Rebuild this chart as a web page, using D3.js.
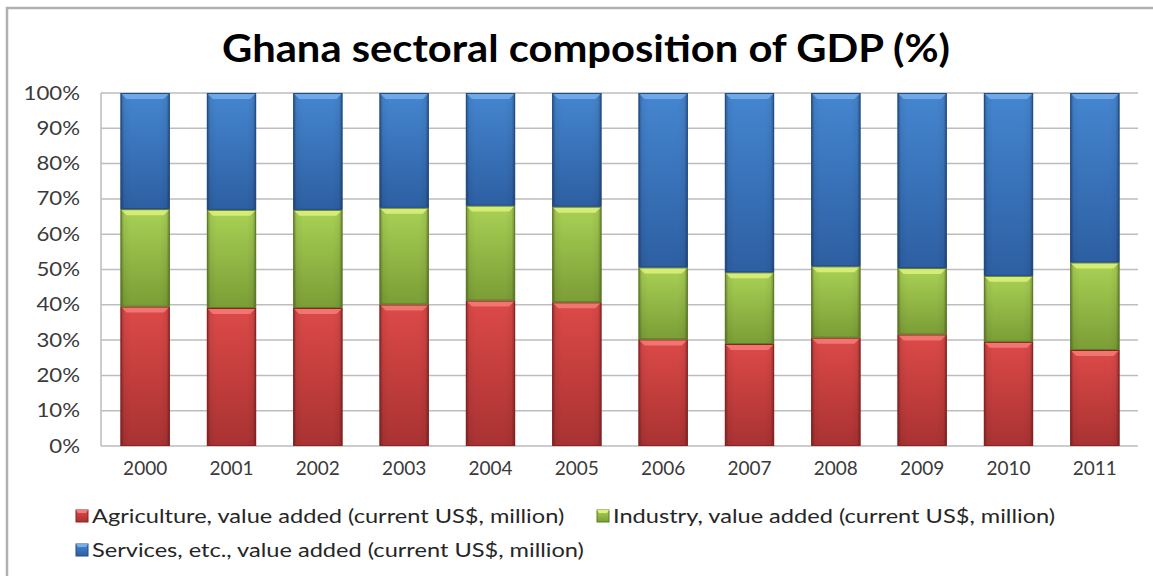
<!DOCTYPE html>
<html><head><meta charset="utf-8">
<script src="https://cdn.jsdelivr.net/npm/d3@7"></script>
<style>body{margin:0;background:#fff;overflow:hidden}</style>
</head><body>
<svg id="chart" width="1153" height="576"></svg>
<script>
const years = ["2000","2001","2002","2003","2004","2005","2006","2007","2008","2009","2010","2011"];
const agriculture = [39.5,39.1,39.1,40.1,41.2,40.7,30.2,28.9,30.7,31.6,29.5,27.2];
const industry    = [27.6,27.8,27.8,27.4,26.9,27.1,20.4,20.3,20.2,18.8,18.7,24.8];
const services    = [32.9,33.1,33.1,32.5,31.9,32.2,49.4,50.8,49.1,49.6,51.8,48.0];
const seriesNames = [
  "Agriculture, value added (current US$, million)",
  "Industry, value added (current US$, million)",
  "Services, etc., value added (current US$, million)"
];
const yTicks = [0,10,20,30,40,50,60,70,80,90,100];
const title = "Ghana sectoral composition of GDP (%)";

const palette = [
  {top:"#DC4A48", bot:"#A93232", hi:"#F47C78", edge:"#8A2222"},
  {top:"#A9D155", bot:"#7B9D36", hi:"#DDF27E", edge:"#5F7C28"},
  {top:"#4586D0", bot:"#2D5FA2", hi:"#77AEEA", edge:"#234C85"}
];

const svg = d3.select("#chart");
const defs = svg.append("defs");
palette.forEach((p,i)=>{
  const g = defs.append("linearGradient").attr("id","v"+i).attr("x1",0).attr("y1",0).attr("x2",0).attr("y2",1);
  g.append("stop").attr("offset","0%").attr("stop-color",p.top);
  g.append("stop").attr("offset","100%").attr("stop-color",p.bot);
});
const hg = defs.append("linearGradient").attr("id","side").attr("x1",0).attr("y1",0).attr("x2",1).attr("y2",0);
[[0,0.35],[0.07,0.05],[0.2,0],[0.8,0],[0.93,0.05],[1,0.35]].forEach(([o,a])=>
  hg.append("stop").attr("offset",o).attr("stop-color","#000").attr("stop-opacity",a));

// chart border
svg.append("path").attr("d","M7,1153 V8 H1160").attr("fill","none").attr("stroke","#b0b0b0").attr("stroke-width",2.5);

const font = "Lato, 'Open Sans', sans-serif";
svg.append("text").attr("transform","translate(586,62) scale(1.07,1)").attr("text-anchor","middle")
  .attr("font-family",font).attr("font-weight","bold").attr("font-size",39).attr("fill","#000").text(title);

const x = d3.scaleBand().domain(years).range([102,1138]).paddingInner(0.43).paddingOuter(0.215);
const y = d3.scaleLinear().domain([0,100]).range([446,93]);

// gridlines
const grid = svg.append("g");
grid.selectAll("line").data(yTicks).join("line")
  .attr("x1",101).attr("x2",1138).attr("y1",d=>y(d)).attr("y2",d=>y(d))
  .attr("stroke","#bdbdbd").attr("stroke-width",1.5);
svg.append("line").attr("x1",101).attr("x2",101).attr("y1",y(100)).attr("y2",y(0)).attr("stroke","#bdbdbd").attr("stroke-width",1.5);

// y axis labels
const yAxis = d3.axisLeft(y).tickValues(yTicks).tickFormat(d=>d+"%").tickSize(0).tickPadding(0);
const ya = svg.append("g").attr("transform","translate(80,0)").call(yAxis);
ya.select(".domain").remove();
ya.selectAll("text").attr("x",0).attr("transform","scale(1.17,1)")
  .attr("font-family",font).attr("font-size",19).attr("fill","#3a3a3a");

// x axis labels
const xAxis = d3.axisBottom(x).tickSize(0).tickPadding(16);
const xa = svg.append("g").attr("transform","translate(0,446)").call(xAxis);
xa.select(".domain").remove();
xa.selectAll("text").attr("font-family",font).attr("font-size",19).attr("fill","#3a3a3a");

// stacked data
const table = years.map((yr,i)=>({year:yr, a:agriculture[i], b:industry[i], c:services[i]}));
const stack = d3.stack().keys(["a","b","c"]);
const layers = stack(table);

const bars = svg.append("g");
layers.forEach((layer,li)=>{
  const p = palette[li];
  const g = bars.append("g");
  layer.forEach(d=>{
    const x0 = x(d.data.year), w = x.bandwidth();
    const y0 = y(d[1]), h = y(d[0]) - y(d[1]);
    g.append("rect").attr("x",x0).attr("y",y0).attr("width",w).attr("height",h).attr("fill",`url(#v${li})`);
    g.append("rect").attr("x",x0).attr("y",y0).attr("width",w).attr("height",h).attr("fill","url(#side)");
    const b = 6;
    g.append("path").attr("d",`M${x0},${y0} H${x0+w} L${x0+w-b},${y0+b} H${x0+b} Z`).attr("fill",p.hi).attr("opacity",0.85);
    g.append("rect").attr("x",x0+0.5).attr("y",y0+0.5).attr("width",w-1).attr("height",h-1)
      .attr("fill","none").attr("stroke",p.edge).attr("stroke-width",1);
  });
});

// legend
const legendPos = [[76,516],[597,516],[76,550]];
const lg = svg.append("g");
seriesNames.forEach((name,i)=>{
  const [lx,ly] = legendPos[i];
  const p = palette[i];
  lg.append("rect").attr("x",lx).attr("y",ly-6).attr("width",12).attr("height",12).attr("fill",`url(#v${i})`).attr("stroke",p.edge);
  lg.append("path").attr("d",`M${lx},${ly-6} H${lx+12} L${lx+10},${ly-3} H${lx+2} Z`).attr("fill",p.hi);
  lg.append("text").attr("transform",`translate(${lx+16},${ly}) scale(1.18,1)`).attr("dy","0.35em")
    .attr("font-family",font).attr("font-size",20).attr("fill","#262626").text(name);
});
</script>
</body></html>
